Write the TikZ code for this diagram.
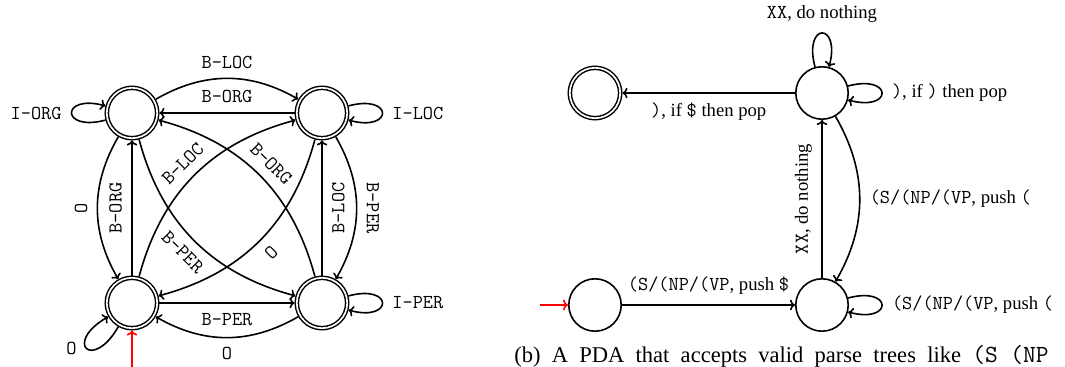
\documentclass[tikz,border=0pt]{standalone}
\usepackage{fontspec}
\setmainfont{Liberation Serif}
\usetikzlibrary{arrows.meta}
\newcommand\tx[1]{{\fontsize{14.8}{16}\selectfont\ttfamily #1}}
\begin{document}
\begin{tikzpicture}[x=0.75pt, y=0.75pt,
  acc/.style={circle, draw, line width=1.1pt, double, double distance=1.25pt, minimum size=37.8pt, inner sep=0pt, outer sep=1.7pt},
  st/.style={circle, draw, line width=1.2pt, minimum size=39.3pt, inner sep=0pt},
  edge/.style={draw, line width=1.2pt, -{To[length=3.8pt,width=8pt]}},
  every loop/.style={min distance=35pt},
  tl/.style={font=\fontsize{14.8}{17}\selectfont\ttfamily, inner sep=7pt},
  rl/.style={font=\fontsize{14}{16}\selectfont, inner sep=7pt},
  start/.style={edge, red}
]
\useasboundingbox (0,0) rectangle (1065,367);

% ---------- left automaton ----------
\node[acc] (A) at (132,254) {};
\node[acc] (B) at (322,254) {};
\node[acc] (C) at (132,64) {};
\node[acc] (D) at (322,64) {};

\draw[edge] (A) to[bend left=30] node[above,tl] {B-LOC} (B);
\draw[edge] (B) -- node[above,tl] {B-ORG} (A);
\draw[edge] (C) -- node[below,tl] {B-PER} (D);
\draw[edge] (D) to[bend left=30] node[below,tl] {O} (C);
\draw[edge] (A) to[bend right=30] node[above,rotate=90,tl] {O} (C);
\draw[edge] (C) -- node[above,rotate=90,tl] {B-ORG} (A);
\draw[edge] (D) -- node[below,rotate=90,tl] {B-LOC} (B);
\draw[edge] (B) to[bend left=30] node[above,rotate=-90,tl] {B-PER} (D);

\draw[edge] (C) to[bend left=30] node[sloped,above,tl] {B-LOC} (B);
\draw[edge] (D) to[bend right=30] node[sloped,above,tl] {B-ORG} (A);
\draw[edge] (A) to[bend right=30] node[sloped,below,tl] {B-PER} (D);
\draw[edge] (B) to[bend left=30] node[sloped,below,tl] {O} (C);

\draw[edge] (A) to[loop left] node[left,tl] {I-ORG} (A);
\draw[edge] (B) to[loop right] node[right,tl] {I-LOC} (B);
\draw[edge] (D) to[loop right] node[right,tl] {I-PER} (D);
\draw[edge] (C) to[loop, out=240, in=210, min distance=39pt] node[left,tl] {O} (C);

\coordinate (s1) at (132,-3);
\draw[start] (s1) -- (C);

% ---------- right automaton (PDA) ----------
\node[acc] (E) at (595,274) {};
\node[st] (F) at (822,274) {};
\node[st] (G) at (595,62) {};
\node[st] (H) at (822,62) {};

\draw[edge] (F) -- node[below,rl] {\tx{)}, if \tx{\$} then pop} (E);
\draw[edge] (F) to[loop above] node[above,rl] {\tx{XX}, do nothing} (F);
\draw[edge] (F) to[loop right] node[right,rl] {\tx{)}, if \tx{)} then pop} (F);
\draw[edge] (G) -- node[above,rl] {\tx{(S/(NP/(VP}, push \tx{\$}} (H);
\draw[edge] (H) -- node[above,rotate=90,rl] {\tx{XX}, do nothing} (F);
\draw[edge] (F) to[bend left=30] node[right,rl] {\tx{(S/(NP/(VP}, push \tx{(}} (H);
\draw[edge] (H) to[loop right] node[right,rl] {\tx{(S/(NP/(VP}, push \tx{(}} (H);

\coordinate (s2) at (540,62);
\draw[start] (s2) -- (G);

% ---------- caption ----------
\node[anchor=base west, font=\fontsize{16.9}{20}\selectfont, inner sep=0pt] (cap) at (514,4)
  {\spaceskip=0.5em\relax (b) A PDA that accepts valid parse trees like {\fontsize{18.5}{20}\selectfont\ttfamily\spaceskip=0pt (S (NP}};
\end{tikzpicture}
\end{document}
